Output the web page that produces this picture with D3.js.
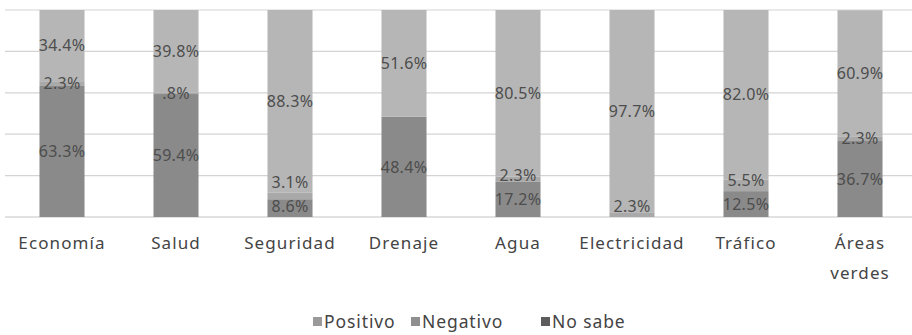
<!DOCTYPE html>
<html><head><meta charset="utf-8">
<script src="https://cdn.jsdelivr.net/npm/d3@7"></script>
<style>body{margin:0;background:#fff}svg{display:block}</style>
</head><body><div id="chart"></div>
<script>
const categories = ["Economía","Salud","Seguridad","Drenaje","Agua","Electricidad","Tráfico","Áreas verdes"];
const positivo = [63.3, 59.4, 8.6, 48.4, 17.2, 0, 12.5, 36.7];
const noSabe   = [2.3, 0.8, 3.1, 0, 2.3, 2.3, 5.5, 2.3];
const negativo = [34.4, 39.8, 88.3, 51.6, 80.5, 97.7, 82.0, 60.9];
const seriesNames = ["Positivo","Negativo","No sabe"];
const labelText = {"0.8": ".8%"};
const yTicks = [0,20,40,60,80,100];

const W = 912, H = 335;
const svg = d3.select("#chart").append("svg").attr("width",W).attr("height",H);
const font = "'Noto Sans', 'Open Sans', sans-serif";

const x = d3.scaleBand().domain(categories).range([5, 917]).paddingInner(0.605).paddingOuter(0.3025);
const y = d3.scaleLinear().domain([0,100]).range([217, 10]);

const colors = {"Positivo":"#8a8a8a","No sabe":"#a9a9a9","Negativo":"#b6b6b6"};
const legendColors = {"Positivo":"#9a9a9a","Negativo":"#8f8f8f","No sabe":"#5c5c5c"};

// gridlines
svg.append("g").selectAll("line").data(yTicks).join("line")
  .attr("x1",5).attr("x2",912).attr("y1",d=>y(d)).attr("y2",d=>y(d))
  .attr("stroke",d=>d===0?"#c4c4c4":"#d4d4d4").attr("stroke-width",1.2);

// stack bottom -> top
const stackKeys = ["Positivo","No sabe","Negativo"];
const rows = categories.map((c,i)=>({cat:c,"Positivo":positivo[i],"No sabe":noSabe[i],"Negativo":negativo[i]}));
const stacked = d3.stack().keys(stackKeys)(rows);

const g = svg.append("g");
stacked.forEach(layer=>{
  g.append("g").selectAll("rect").data(layer).join("rect")
    .attr("x",d=>x(d.data.cat)).attr("width",x.bandwidth())
    .attr("y",d=>y(d[1])).attr("height",d=>Math.max(0,y(d[0])-y(d[1])))
    .attr("fill",colors[layer.key]);
});

// labels with simple collision avoidance
const labels = [];
categories.forEach((c,i)=>{
  let prev = null;
  stacked.forEach(layer=>{
    const d = layer[i];
    const v = d[1]-d[0];
    if (v <= 0) return;
    let cy = (y(d[0])+y(d[1]))/2;
    cy = Math.min(cy, 206);
    if (prev !== null) cy = Math.min(cy, prev - 24);
    prev = cy;
    const key = String(+v.toFixed(1));
    labels.push({cat:c, cy, text: labelText[key] || v.toFixed(1)+"%"});
  });
});
svg.append("g").selectAll("text").data(labels).join("text")
  .attr("x",d=>x(d.cat)+x.bandwidth()/2).attr("y",d=>d.cy)
  .attr("dy","0.35em").attr("text-anchor","middle")
  .style("font-family",font).style("font-size","16px").style("letter-spacing","0.3px").attr("fill","#4d4d4d")
  .text(d=>d.text);

// category axis labels
const catG = svg.append("g");
categories.forEach(c=>{
  const words = c === "Áreas verdes" ? ["Áreas","verdes"] : [c];
  const t = catG.append("text").attr("x",x(c)+x.bandwidth()/2).attr("y",249)
    .attr("text-anchor","middle").style("font-family",font).style("font-size","17px")
    .style("letter-spacing","1.1px").attr("fill","#444");
  words.forEach((w,k)=>t.append("tspan").attr("x",x(c)+x.bandwidth()/2).attr("dy",k===0?0:30).text(w));
});

// legend
const legX = [313, 411, 541];
const lg = svg.append("g");
seriesNames.forEach((s,i)=>{
  lg.append("rect").attr("x",legX[i]).attr("y",317).attr("width",9).attr("height",9).attr("fill",legendColors[s]);
  lg.append("text").attr("x",legX[i]+11).attr("y",328).style("font-family",font).style("font-size","17.5px")
    .style("letter-spacing","0.9px").attr("fill","#444").text(s);
});
</script></body></html>
